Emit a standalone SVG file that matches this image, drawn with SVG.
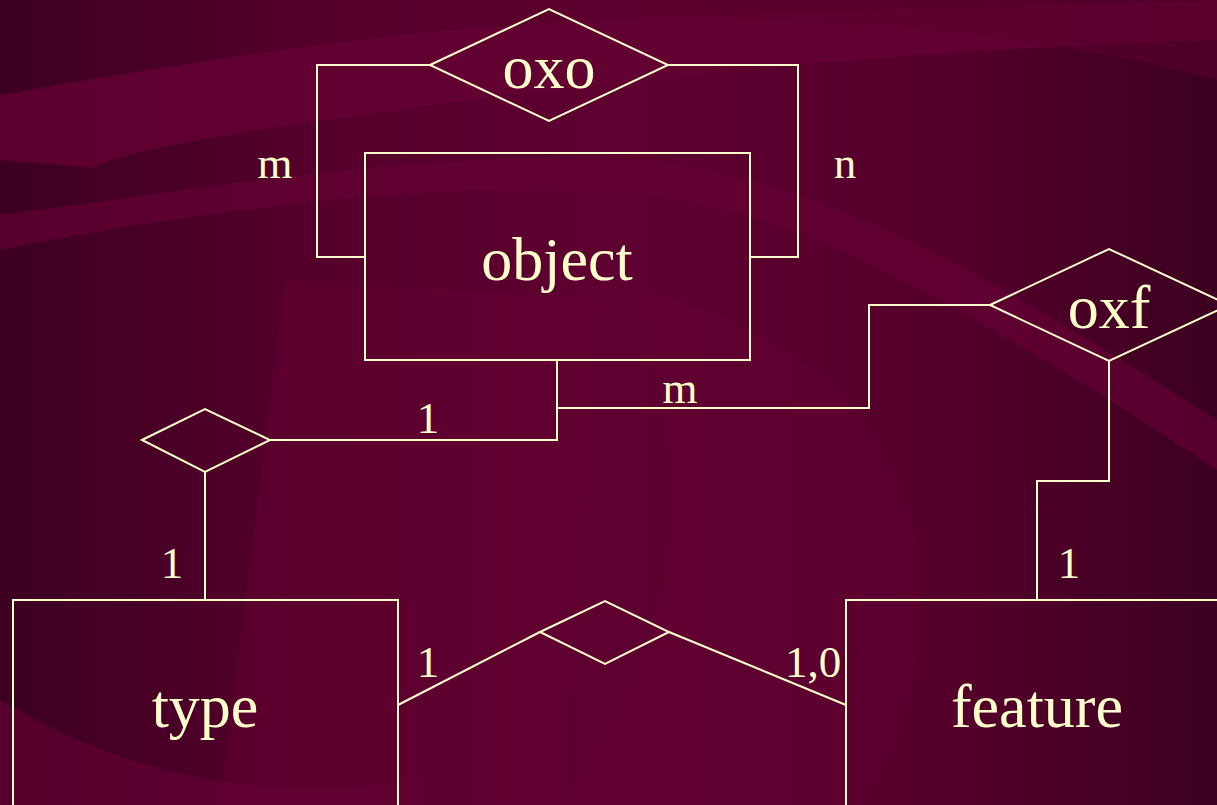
<svg xmlns="http://www.w3.org/2000/svg" width="1217" height="805" viewBox="0 0 1217 805">
<defs>
<linearGradient id="bg" x1="0" y1="0" x2="1" y2="0">
<stop offset="0" stop-color="#3c0020"/>
<stop offset="0.25" stop-color="#55002b"/>
<stop offset="0.5" stop-color="#5e0030"/>
<stop offset="0.78" stop-color="#55002b"/>
<stop offset="1" stop-color="#3c0020"/>
</linearGradient>
<style>
.s{fill:none;stroke:#FFFFCC;stroke-width:2}
.big{font-family:"Liberation Serif","Times New Roman",serif;font-size:62px;fill:#FFFFCC;text-anchor:middle}
.lbl{font-family:"Liberation Serif","Times New Roman",serif;font-size:45px;fill:#FFFFCC;text-anchor:middle}
</style>
</defs>
<g id="background">
<rect width="1217" height="805" fill="url(#bg)"/>
<path d="M0 95 C200 60 450 20 700 15 L1217 0 L1217 40 C900 50 600 80 400 110 C250 130 120 150 95 168 L0 160 Z" fill="#640033" opacity="0.8"/>
<path d="M0 250 C250 200 450 185 600 190 C750 195 900 260 1217 470 L1217 420 C950 250 800 170 620 160 C420 150 200 190 0 215 Z" fill="#640033" opacity="0.7"/>
<path d="M285 280 L600 300 L560 805 L220 805 Z" fill="#620032" opacity="0.55"/>
<path d="M0 700 C150 790 300 800 420 780 L420 805 L0 805 Z" fill="#620032" opacity="0.7"/>
<path d="M640 290 C800 330 900 420 920 560 C930 700 880 780 860 805 L560 805 C640 700 720 560 640 290 Z" fill="#620032" opacity="0.5"/>
<path d="M470 0 L1217 0 L1217 80 C1000 20 700 10 470 30 Z" fill="#5a002d" opacity="0.6"/>
</g>
<g id="connectors">
<polyline class="s" points="430,65 317,65 317,257 365,257"/>
<polyline class="s" points="668,65 798,65 798,257 750,257"/>
<polyline class="s" points="557,360 557,440 270,440"/>
<polyline class="s" points="557,408 869,408 869,305 990,305"/>
<polyline class="s" points="205,472 205,600"/>
<polyline class="s" points="1109,361 1109,481 1037,481 1037,600"/>
<polyline class="s" points="398,705 540,632"/>
<polyline class="s" points="669,632 846,705"/>
</g>
<g id="labels">
<text class="lbl" x="275" y="178">m</text>
<text class="lbl" x="845" y="178">n</text>
<text class="lbl" x="428" y="433">1</text>
<text class="lbl" x="680" y="403">m</text>
<text class="lbl" x="172" y="578">1</text>
<text class="lbl" x="428" y="677">1</text>
<text class="lbl" x="813" y="677">1,0</text>
<text class="lbl" x="1069" y="578">1</text>
</g>
<g id="oxo">
<polygon class="s" points="430,65 549,9 668,65 549,121"/>
<text class="big" x="549" y="88">oxo</text>
</g>
<g id="object">
<rect class="s" x="365" y="153" width="385" height="207"/>
<text class="big" x="557" y="280">object</text>
</g>
<g id="oxf">
<polygon class="s" points="990,305 1109,249 1229,305 1109,361"/>
<text class="big" x="1109" y="328">oxf</text>
</g>
<g id="rel-object-type">
<polygon class="s" points="142,440 205,409 270,440 205,472"/>
</g>
<g id="type">
<rect class="s" x="13" y="600" width="385" height="220"/>
<text class="big" x="205" y="727">type</text>
</g>
<g id="rel-type-feature">
<polygon class="s" points="540,632 605,601 669,632 605,664"/>
</g>
<g id="feature">
<rect class="s" x="846" y="600" width="400" height="220"/>
<text class="big" x="1037" y="727">feature</text>
</g>
</svg>
